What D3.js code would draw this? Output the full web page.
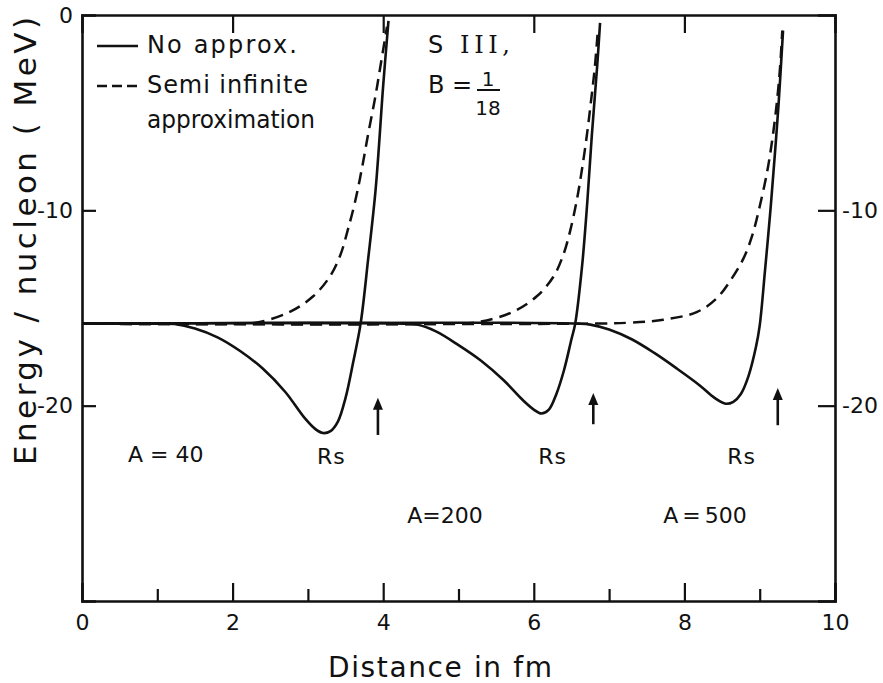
<!DOCTYPE html>
<html>
<head>
<meta charset="utf-8">
<script src="https://cdn.jsdelivr.net/npm/d3@7"></script>
<style>
  body { margin: 0; background: #fff; }
  svg text { font-family: "DejaVu Sans", sans-serif; fill: #111; }
  .axis path, .axis line { stroke: #111; }
</style>
</head>
<body>
<div id="chart"></div>
<script>
// Energy / nucleon vs distance, S III, B = 1/18
const xTicks = [0, 2, 4, 6, 8, 10];
const xMinor = [1, 3, 5, 7, 9];
const xTopTicks = [2, 4, 6, 8];
const yTicksLeft = [0, -10, -20];
const yTicksRight = [-10, -20];

// full calculation (solid), [distance fm, energy MeV]
const exact40 = [[0, -15.8], [1.0, -15.8], [1.23, -15.82], [1.5, -16.05], [1.8, -16.5], [2.1, -17.2], [2.4, -18.1],
  [2.7, -19.3], [2.95, -20.6], [3.1, -21.2], [3.2, -21.4], [3.3, -21.3], [3.4, -20.8], [3.5, -19.6], [3.6, -17.8],
  [3.7, -15.8], [3.8, -12.5], [3.9, -8.9], [4.0, -3.6], [4.07, -0.3]];
const exact200 = [[0, -15.8], [4.3, -15.8], [4.45, -15.85], [4.7, -16.2], [5.0, -16.9], [5.3, -17.7], [5.6, -18.7],
  [5.85, -19.7], [6.0, -20.2], [6.1, -20.4], [6.2, -20.2], [6.3, -19.4], [6.4, -18.2], [6.5, -16.6], [6.55, -15.8],
  [6.64, -12.9], [6.71, -9.6], [6.77, -6.2], [6.84, -2.7], [6.88, -0.4]];
const exact500 = [[0, -15.8], [6.6, -15.8], [6.75, -15.85], [7.0, -16.1], [7.3, -16.6], [7.6, -17.3], [7.9, -18.1],
  [8.2, -18.95], [8.4, -19.6], [8.55, -19.9], [8.65, -19.8], [8.75, -19.4], [8.85, -18.5], [8.95, -17.0], [9.0, -15.9],
  [9.07, -13.1], [9.14, -10.1], [9.2, -7.2], [9.25, -4.6], [9.31, -0.8]];

// semi infinite approximation (dashed)
const semi40 = [[0, -15.8], [2.1, -15.8], [2.36, -15.72], [2.76, -15.2], [3.07, -14.4], [3.29, -13.4], [3.43, -12.3],
  [3.53, -11.0], [3.63, -9.5], [3.72, -7.8], [3.80, -6.1], [3.89, -4.3], [3.96, -2.7], [4.05, -0.6]];
const semi200 = [[0, -15.8], [4.9, -15.8], [5.29, -15.7], [5.72, -15.2], [6.04, -14.4], [6.26, -13.4], [6.39, -12.3],
  [6.48, -11.1], [6.57, -9.5], [6.64, -7.9], [6.71, -6.0], [6.76, -4.4], [6.81, -2.7], [6.85, -0.8]];
const semi500 = [[0, -15.8], [6.7, -15.8], [7.28, -15.75], [7.72, -15.6], [8.17, -15.2], [8.43, -14.5], [8.61, -13.6],
  [8.78, -12.5], [8.90, -11.3], [9.0, -9.8], [9.10, -8.0], [9.17, -6.3], [9.23, -4.4], [9.27, -2.7], [9.30, -0.8]];

// surface radius arrows
const arrowX = [3.93, 6.79, 9.24];
const arrowLow = [-21.5, -20.95, -21.0];
const arrowHigh = [-19.6, -19.35, -19.1];

const massLabels = ["A = 40", "A=200", "A = 500"];
const massX = [0.61, 4.32, 7.72];
const massY = [-22.9, -26.0, -26.0];
const rsX = [3.12, 6.06, 8.57];

const width = 883, height = 683;
const svg = d3.select("#chart").append("svg")
  .attr("width", width)
  .attr("height", height);

const x = d3.scaleLinear().domain([0, 10]).range([82, 835]);
const y = d3.scaleLinear().domain([-30, 0]).range([601, 15]);
const fmt = d => String(d); // plain hyphen for negatives

/* AXES */
svg.append("g").attr("class", "axis")
  .attr("transform", `translate(0,${y(-30)})`)
  .call(d3.axisBottom(x).tickValues(xTicks).tickSize(-18).tickPadding(13).tickFormat(fmt));
svg.append("g").attr("class", "axis")
  .attr("transform", `translate(0,${y(-30)})`)
  .call(d3.axisBottom(x).tickValues(xMinor).tickSize(-12).tickFormat(""))
  .select(".domain").remove();
svg.append("g").attr("class", "axis")
  .attr("transform", `translate(0,${y(0)})`)
  .call(d3.axisTop(x).tickValues(xTopTicks).tickSize(-18).tickFormat(""));
svg.append("g").attr("class", "axis")
  .attr("transform", `translate(${x(0)},0)`)
  .call(d3.axisLeft(y).tickValues(yTicksLeft).tickSize(-14).tickPadding(9).tickFormat(fmt));
svg.append("g").attr("class", "axis")
  .attr("transform", `translate(${x(10)},0)`)
  .call(d3.axisRight(y).tickValues(yTicksRight).tickSize(-17).tickPadding(7).tickFormat(fmt));

svg.selectAll(".axis .domain").attr("stroke-width", 2.6);
svg.selectAll(".axis .tick line").attr("stroke-width", 2.2);
svg.selectAll(".axis text")
  .style("font-family", '"DejaVu Sans", sans-serif')
  .style("font-size", "22px")
  .attr("fill", "#111");
// the left 0 sits at the frame corner: drop its tick line
svg.selectAll(".axis .tick").filter(d => d === 0).select("line").remove();

/* CURVES */
const line = d3.line()
  .x(d => x(d[0]))
  .y(d => y(d[1]))
  .curve(d3.curveCatmullRom.alpha(0.5));

svg.selectAll(".exact")
  .data([exact40, exact200, exact500])
  .join("path")
  .attr("class", "exact")
  .attr("d", line)
  .attr("fill", "none")
  .attr("stroke", "#111")
  .attr("stroke-width", 2.6);

svg.selectAll(".semi")
  .data([semi40, semi200, semi500])
  .join("path")
  .attr("class", "semi")
  .attr("d", line)
  .attr("fill", "none")
  .attr("stroke", "#111")
  .attr("stroke-width", 2.5)
  .attr("stroke-dasharray", "12,7");

/* ARROWS */
arrowX.forEach(function (ax, i) {
  const tx = x(ax), ty = y(arrowHigh[i]);
  svg.append("line")
    .attr("x1", tx).attr("x2", tx)
    .attr("y1", y(arrowLow[i])).attr("y2", ty + 10)
    .attr("stroke", "#111").attr("stroke-width", 2.6);
  svg.append("path")
    .attr("d", `M${tx},${ty} L${tx - 5},${ty + 12} L${tx + 5},${ty + 12} Z`)
    .attr("fill", "#111");
});

/* LABELS */
massLabels.forEach(function (t, i) {
  svg.append("text")
    .attr("x", x(massX[i]))
    .attr("y", y(massY[i]))
    .style("font-size", "22px")
    .style("word-spacing", i === 2 ? "-3px" : "0px")
    .text(t);
  svg.append("text")
    .attr("x", x(rsX[i]))
    .attr("y", y(-23.0))
    .style("font-size", "22px")
    .style("letter-spacing", "1px")
    .text("Rs");
});

// legend
svg.append("line")
  .attr("x1", 97).attr("x2", 138).attr("y1", 46).attr("y2", 46)
  .attr("stroke", "#111").attr("stroke-width", 2.4);
svg.append("line")
  .attr("x1", 97).attr("x2", 140).attr("y1", 86).attr("y2", 86)
  .attr("stroke", "#111").attr("stroke-width", 2.4)
  .attr("stroke-dasharray", "10,5");
svg.append("text").attr("x", 147).attr("y", 53)
  .style("font-size", "24px").attr("textLength", 150).attr("lengthAdjust", "spacing")
  .text("No approx.");
svg.append("text").attr("x", 147).attr("y", 93)
  .style("font-size", "24px").attr("textLength", 161).attr("lengthAdjust", "spacing")
  .text("Semi infinite");
svg.append("text").attr("x", 147).attr("y", 128)
  .style("font-size", "24px").attr("textLength", 168).attr("lengthAdjust", "spacingAndGlyphs")
  .text("approximation");

// force label
const force = svg.append("text").attr("x", 428).attr("y", 53)
  .style("font-size", "24px").attr("textLength", 82).attr("lengthAdjust", "spacing");
force.append("tspan").text("S ");
force.append("tspan").style("font-family", '"DejaVu Serif", serif').text("III,");
svg.append("text").attr("x", 428).attr("y", 93).style("font-size", "24px").text("B =");
svg.append("text").attr("x", 488).attr("y", 86).attr("text-anchor", "middle").style("font-size", "20px").text("1");
svg.append("line").attr("x1", 477).attr("x2", 500).attr("y1", 90).attr("y2", 90)
  .attr("stroke", "#111").attr("stroke-width", 2);
svg.append("text").attr("x", 488).attr("y", 115).attr("text-anchor", "middle").style("font-size", "20px").text("18");

// axis titles
svg.append("text")
  .attr("x", 440).attr("y", 677)
  .attr("text-anchor", "middle")
  .style("font-size", "28px")
  .attr("textLength", 224).attr("lengthAdjust", "spacing")
  .text("Distance in fm");
svg.append("text")
  .attr("transform", "translate(36,241) rotate(-90)")
  .attr("text-anchor", "middle")
  .style("font-size", "31px")
  .attr("textLength", 448).attr("lengthAdjust", "spacing")
  .text("Energy / nucleon ( MeV)");
</script>
</body>
</html>
